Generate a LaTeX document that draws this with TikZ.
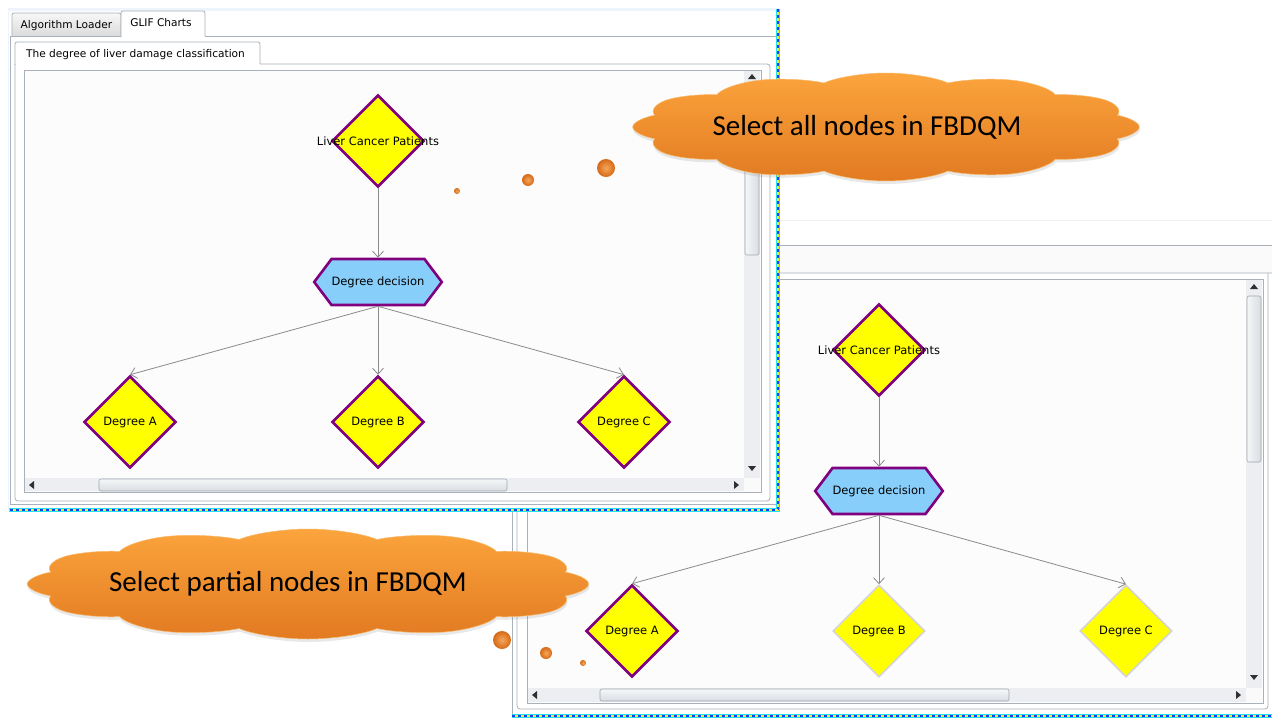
\documentclass[tikz,border=0pt]{standalone}
\usepackage{fontspec}
\setmainfont{DejaVu Sans}
\newfontfamily\calloutfont{Carlito}
\usetikzlibrary{shapes.geometric,shapes.symbols,arrows.meta,shadows}

\definecolor{nodeyellow}{HTML}{FFFF00}
\definecolor{nodepurple}{HTML}{800080}
\definecolor{decisionblue}{HTML}{87CEFA}
\definecolor{paleborder}{HTML}{D4D4D4}
\definecolor{edgegray}{HTML}{8A8A8A}
\definecolor{panelline}{HTML}{A9B1BA}
\definecolor{canvasbg}{HTML}{FCFCFC}
\definecolor{trackbg}{HTML}{ECEEF1}
\definecolor{thumbtop}{HTML}{F5F6F8}
\definecolor{thumbbot}{HTML}{D9DDE2}
\definecolor{thumbline}{HTML}{A0A8B1}
\definecolor{glyphgray}{HTML}{303030}
\definecolor{cloudtop}{HTML}{FBA43C}
\definecolor{cloudbot}{HTML}{E27A22}
\definecolor{cloudrim}{HTML}{F8BA6A}
\definecolor{bubblein}{HTML}{F5A65C}
\definecolor{bubbleout}{HTML}{D56A16}
\definecolor{dashcyan}{HTML}{22E0F0}
\definecolor{dashblue}{HTML}{1A3CF0}
\definecolor{dashyellow}{HTML}{E8F030}
\definecolor{chromeblue}{HTML}{EEF4FB}

\newcommand\nodefont{\fontsize{11.5}{13}\selectfont}
\newcommand\tabfont{\fontsize{10.6}{12}\selectfont}
\newcommand\callfont{\calloutfont\fontsize{29}{32}\selectfont}

\begin{document}
\begin{tikzpicture}[x=1pt,y=-1pt,
  decision/.style={diamond, aspect=1, draw=nodepurple, line width=2.6,
    fill=nodeyellow, minimum width=92, minimum height=92, inner sep=0},
  pale/.style={decision, draw=paleborder, line width=1.6},
  choice/.style={signal, signal to=west and east, signal pointer angle=106,
    draw=nodepurple, line width=2.6, fill=decisionblue,
    minimum width=124, minimum height=46, inner sep=0, font=\nodefont},
  link/.style={draw=edgegray, line width=0.8, -{Straight Barb[length=6,width=11]}},
  panel/.style={draw=panelline, line width=0.8},
  canvasbox/.style={panel, fill=canvasbg},
  track/.style={fill=trackbg},
  thumb/.style={draw=thumbline, line width=0.6, rounded corners=2,
    top color=thumbtop, bottom color=thumbbot},
  vthumb/.style={draw=thumbline, line width=0.6, rounded corners=2,
    left color=thumbtop, right color=thumbbot},
  glyph/.style={fill=glyphgray},
  callout/.style={cloud, cloud puffs=12, cloud puff arc=115, cloud ignores aspect,
    transform shape, top color=cloudtop, bottom color=cloudbot,
    draw=cloudrim, line width=0.5,
    drop shadow={opacity=0.18, shadow xshift=0.6pt, shadow yshift=-3pt},
    inner sep=0},
  callouttext/.style={font=\callfont, inner sep=0},
  dot/.style={circle, inner sep=0, inner color=bubblein, outer color=bubbleout},
  tabtext/.style={font=\tabfont, inner sep=0, anchor=base},
  selborder/.style={line width=4.6, dashcyan},
  selblue/.style={line width=2, dashblue, dash pattern=on 3 off 3},
  selyellow/.style={line width=2, dashyellow, dash pattern=on 3 off 3, dash phase=3}
]
\useasboundingbox (0,0) rectangle (1272,718);
\fill[white] (0,0) rectangle (1272,718);

% ---------------- second window (partial selection) ----------------
\fill[white] (512,218) rectangle (1272,717);
\draw[draw=black!6, line width=0.8] (512,220) -- (1272,220);
\fill[black!2] (512,245) rectangle (1272,273);
\draw[panel] (512,716) -- (512,245) -- (1272,245);
\draw[panel, rounded corners=3] (1272,273) -- (517,273) -- (517,709) -- (1268,709) -- (1268,273);
\draw[canvasbox] (527,279) rectangle (1263,703);
% scrollbars
\fill[track] (1246,280) rectangle (1262,688);
\fill[track] (528,688) rectangle (1246,702);
\fill[trackbg!80!black!8] (1246,688) rectangle (1262,702);
\draw[vthumb] (1247,296) rectangle (1261,462);
\draw[thumb] (600,689) rectangle (1009,701);
\fill[glyph] (1254,284) -- (1258,289) -- (1250,289) -- cycle;
\fill[glyph] (1254,680) -- (1258,675) -- (1250,675) -- cycle;
\fill[glyph] (532,695) -- (537,691) -- (537,699) -- cycle;
\fill[glyph] (1241,695) -- (1236,691) -- (1236,699) -- cycle;
% graph
\node[decision, label={[font=\nodefont]center:Liver Cancer Patients}] (lcpB) at (879,350) {};
\node[choice] (degB) at (879,491) {Degree decision};
\node[decision, label={[font=\nodefont]center:Degree A}] (aB) at (632,631) {};
\node[pale, label={[font=\nodefont]center:Degree B}] (bB) at (879,631) {};
\node[pale, label={[font=\nodefont]center:Degree C}] (cB) at (1126,631) {};
\draw[link] (lcpB.south) -- (degB.north);
\draw[link] (degB.south) -- (aB.north);
\draw[link] (degB.south) -- (bB.north);
\draw[link] (degB.south) -- (cB.north);
% selection border
\draw[selborder] (512,716) -- (1272,716);
\draw[selblue] (512,716) -- (1272,716);
\draw[selyellow] (512,716) -- (1272,716);

% ---------------- first window (all nodes selected) ----------------
\fill[white] (8,8) rectangle (779,511);
\fill[chromeblue] (8,8) rectangle (779,11);
\draw[chromeblue, line width=0.8] (8.5,8) -- (8.5,511);
% tab strip
\draw[panel, top color=black!3, bottom color=black!14, rounded corners=2]
  (12,36) -- (12,13) -- (121,13) -- (121,36);
\node[tabtext] (tabLoader) at (66.5,28) {Algorithm Loader};
\draw[panel, fill=white, rounded corners=2]
  (121,37) -- (121,11) -- (205,11) -- (205,36);
\node[tabtext] (tabCharts) at (161,26) {GLIF Charts};
\draw[panel] (10,36) -- (121,36);
\draw[panel] (205,36) -- (778,36);
\draw[panel] (10,36) -- (10,504) -- (778,504);
% inner tab page
\draw[panel, fill=white, rounded corners=2]
  (15,65) -- (15,42) -- (260,42) -- (260,64);
\node[tabtext] (tabDegree) at (135.5,57) {The degree of liver damage classification};
\draw[panel, rounded corners=3] (260,64) -- (770,64) -- (770,501) -- (15,501) -- (15,64);
\draw[canvasbox] (24,70) rectangle (761,492);
% scrollbars
\fill[track] (744,71) rectangle (760,478);
\fill[track] (25,478) rectangle (744,491);
\fill[trackbg!80!black!8] (744,478) rectangle (760,491);
\draw[vthumb] (745,86) rectangle (759,255);
\draw[thumb] (99,479) rectangle (507,491);
\fill[glyph] (752,74) -- (756,79) -- (748,79) -- cycle;
\fill[glyph] (752,471) -- (756,466) -- (748,466) -- cycle;
\fill[glyph] (29,485) -- (34,481) -- (34,489) -- cycle;
\fill[glyph] (739,485) -- (734,481) -- (734,489) -- cycle;
% graph
\node[decision, label={[font=\nodefont]center:Liver Cancer Patients}] (lcpA) at (378,141) {};
\node[choice] (degA) at (378,282) {Degree decision};
\node[decision, label={[font=\nodefont]center:Degree A}] (aA) at (130,422) {};
\node[decision, label={[font=\nodefont]center:Degree B}] (bA) at (378,422) {};
\node[decision, label={[font=\nodefont]center:Degree C}] (cA) at (624,422) {};
\draw[link] (lcpA.south) -- (degA.north);
\draw[link] (degA.south) -- (aA.north);
\draw[link] (degA.south) -- (bA.north);
\draw[link] (degA.south) -- (cA.north);
% selection border
\draw[selborder] (778,9) -- (778,510) -- (9,510);
\draw[selblue] (778,9) -- (778,510) -- (9,510);
\draw[selyellow] (778,9) -- (778,510) -- (9,510);

% ---------------- callouts ----------------
% the clouds are drawn narrow and stretched sideways, which flattens the puffs
\begin{scope}[shift={(886,127)}, xscale=3.4]
  \node[callout, minimum width=149, minimum height=108] (allNodes) at (0,0) {};
\end{scope}
\node[callouttext] (allText) at ([xshift=-19]allNodes.center) {Select all nodes in FBDQM};
\node[dot, minimum size=6] (allDot1) at (457,191) {};
\node[dot, minimum size=12] (allDot2) at (528,180) {};
\node[dot, minimum size=18] (allDot3) at (606,168) {};

\begin{scope}[shift={(308,584)}, xscale=3.6]
  \node[callout, minimum width=156, minimum height=110] (partNodes) at (0,0) {};
\end{scope}
\node[callouttext] (partText) at ([xshift=-20]partNodes.center) {Select partial nodes in FBDQM};
\node[dot, minimum size=18] (partDot1) at (502,640) {};
\node[dot, minimum size=12] (partDot2) at (546,653) {};
\node[dot, minimum size=6] (partDot3) at (583,663) {};
\end{tikzpicture}
\end{document}
